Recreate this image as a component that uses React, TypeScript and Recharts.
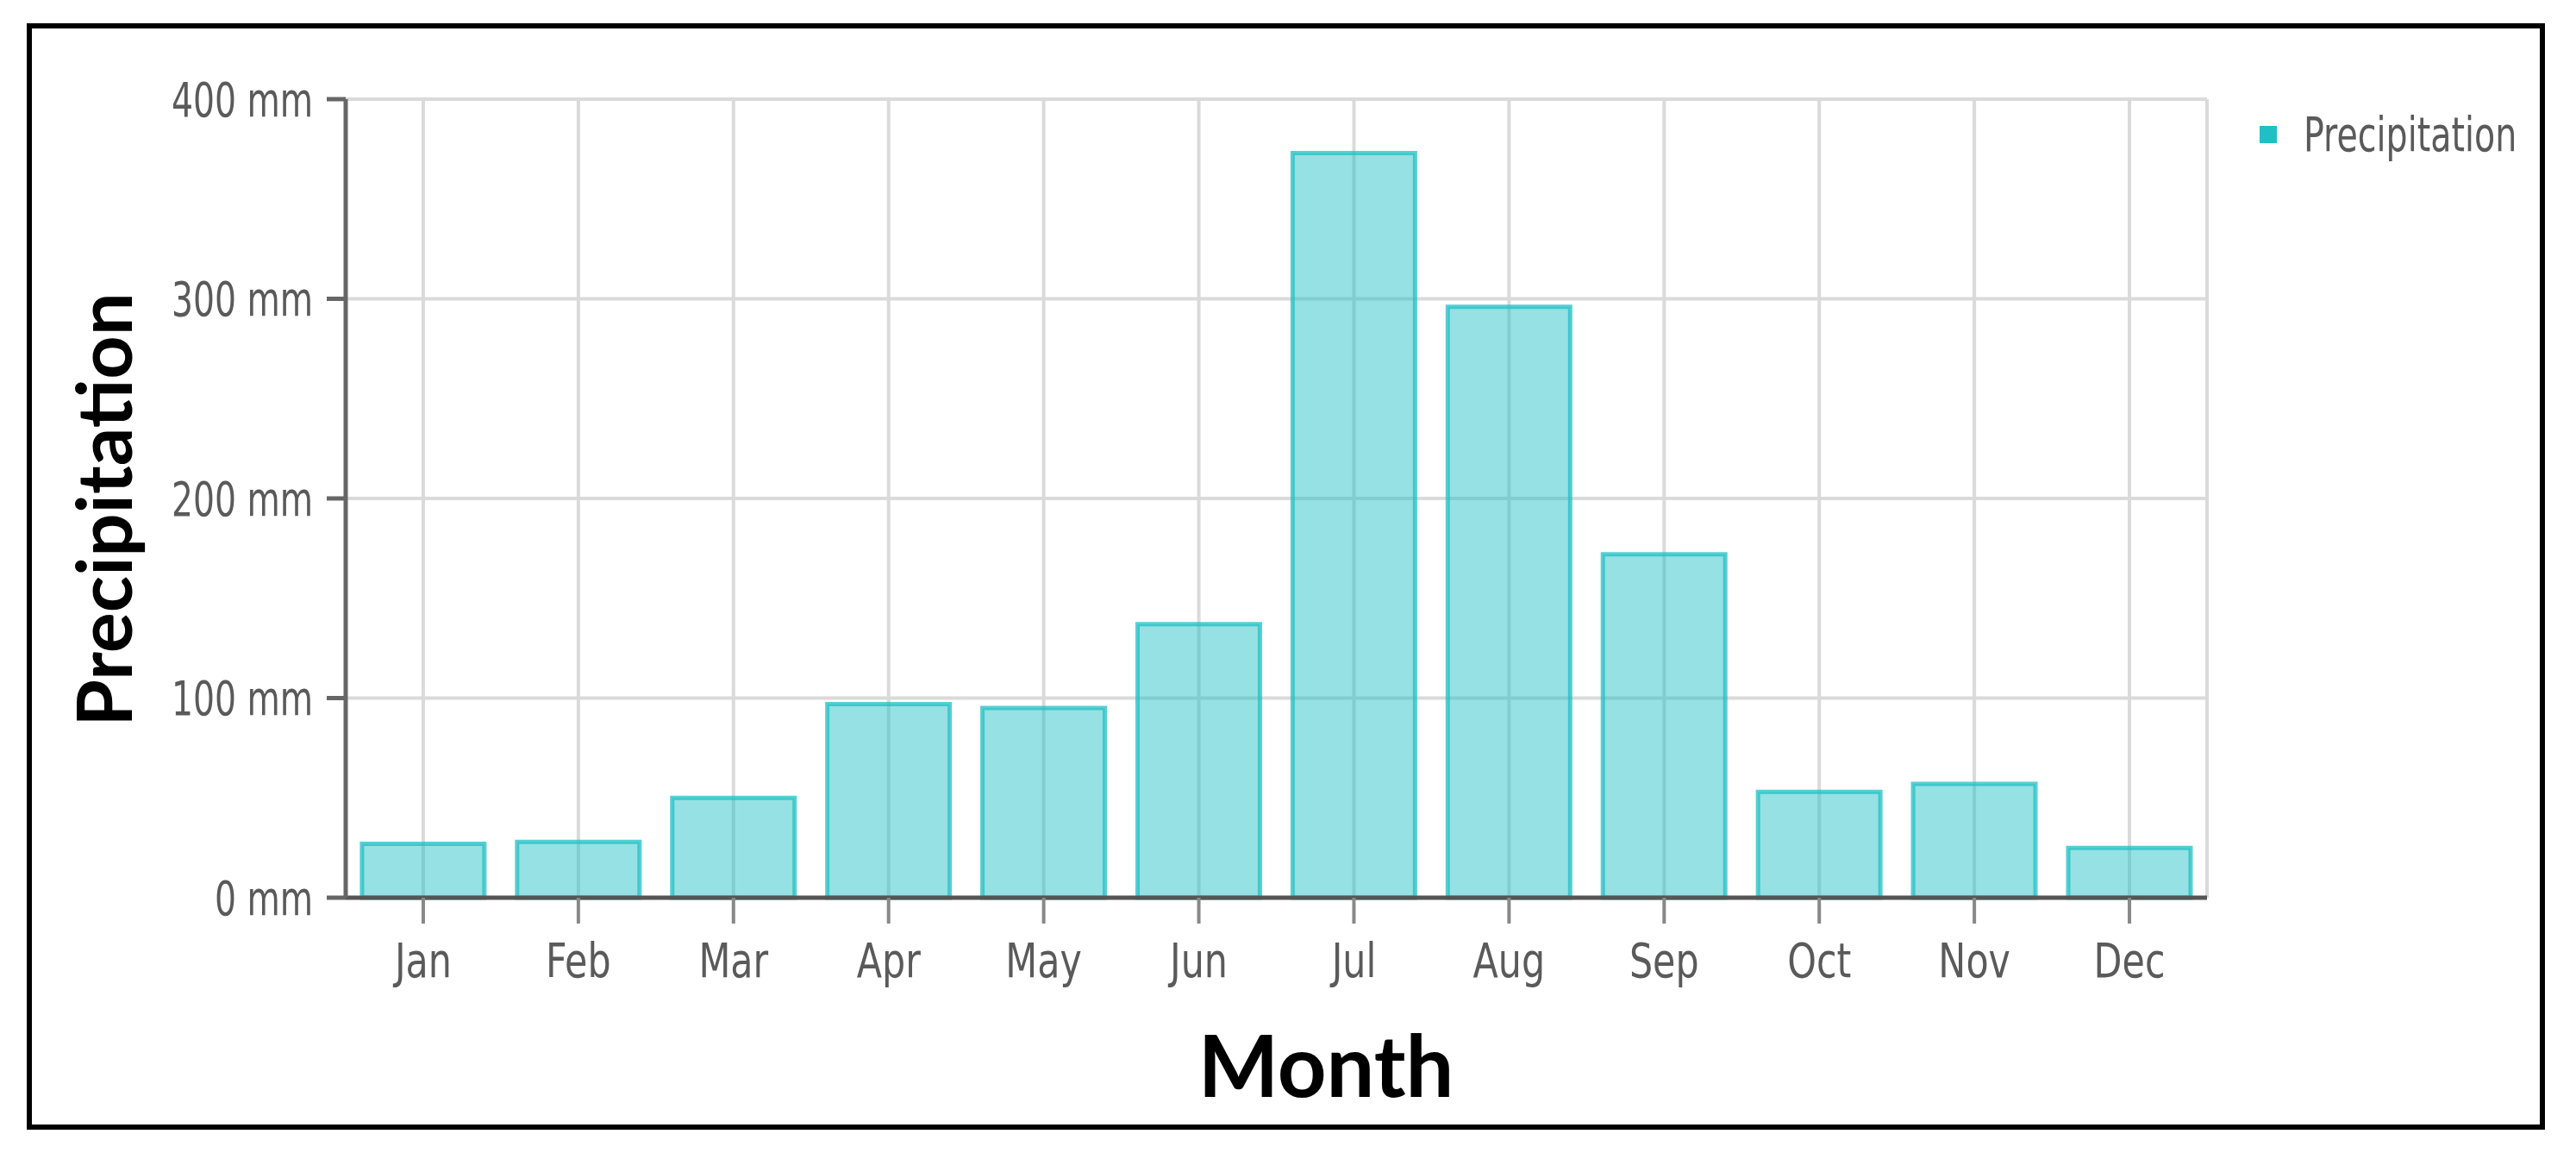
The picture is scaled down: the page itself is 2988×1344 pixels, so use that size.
import { Bar, BarChart, CartesianGrid, Legend, XAxis, YAxis } from "recharts";

const months = ["Jan", "Feb", "Mar", "Apr", "May", "Jun", "Jul", "Aug", "Sep", "Oct", "Nov", "Dec"];
const precipitation = [27, 28, 50, 97, 95, 137, 373, 296, 172, 53, 57, 25];
const yTicks = [0, 100, 200, 300, 400];

const data = months.map((month, i) => ({ month, precipitation: precipitation[i] }));

const TEAL = "#1fbfc4";
const NARROW = "'Liberation Sans Narrow', 'DejaVu Sans Condensed', sans-serif";
const TICK_COLOR = "#5a5a5a";

// the original uses a condensed face, so squeeze the glyphs horizontally
function YTick(props: any) {
  const { x, y, payload } = props;
  return (
    <g transform={`translate(${x},${y}) scale(0.78,1)`}>
      <text textAnchor="end" dy="0.355em" fill={TICK_COLOR} fontSize={56} fontFamily={NARROW}>
        {`${payload.value} mm`}
      </text>
    </g>
  );
}

function XTick(props: any) {
  const { x, y, payload } = props;
  return (
    <g transform={`translate(${x},${y}) scale(0.85,1)`}>
      <text textAnchor="middle" dy="0.71em" fill={TICK_COLOR} fontSize={56} fontFamily={NARROW}>
        {payload.value}
      </text>
    </g>
  );
}

export default function App() {
  return (
    <div
      style={{
        position: "absolute",
        left: 0,
        top: 0,
        width: 2988,
        height: 1344,
        background: "#fff",
        overflow: "hidden",
      }}
    >
      <div
        style={{
          position: "absolute",
          left: 31,
          top: 27,
          width: 2921,
          height: 1283,
          border: "6px solid #000",
          boxSizing: "border-box",
        }}
      />
      <div style={{ position: "absolute", left: 0, top: 0 }}>
        <BarChart
          width={2988}
          height={1344}
          data={data}
          margin={{ top: 115, right: 428, bottom: 183, left: 151 }}
          barCategoryGap="10.5%"
        >
          <CartesianGrid yAxisId="left" stroke="#dadada" strokeWidth={4} />
          <XAxis
            dataKey="month"
            height={120}
            tickSize={30}
            tickMargin={22}
            axisLine={{ stroke: "#555", strokeWidth: 5 }}
            tickLine={{ stroke: "#888", strokeWidth: 4 }}
            tick={<XTick />}
          />
          <YAxis
            yAxisId="left"
            width={250}
            domain={[0, 400]}
            ticks={yTicks}
            tickSize={22}
            tickMargin={16}
            axisLine={{ stroke: "#666", strokeWidth: 5 }}
            tickLine={{ stroke: "#666", strokeWidth: 5 }}
            tick={<YTick />}
          />
          <YAxis
            yAxisId="right"
            orientation="right"
            width={0}
            tick={false}
            tickLine={false}
            axisLine={{ stroke: "#e6e6e6", strokeWidth: 5 }}
          />
          <Legend
            layout="vertical"
            align="center"
            verticalAlign="middle"
            wrapperStyle={{ left: 2621, top: 128, width: 320, height: 56 }}
            content={({ payload }) => (
              <div style={{ display: "flex", alignItems: "center", height: 56 }}>
                {(payload ?? []).map((p) => (
                  <div key={String(p.value)} style={{ display: "flex", alignItems: "center" }}>
                    <span
                      style={{ width: 20, height: 20, background: TEAL, marginRight: 31, display: "inline-block" }}
                    />
                    <span
                      style={{
                        fontFamily: NARROW,
                        fontSize: 55,
                        color: TICK_COLOR,
                        display: "inline-block",
                        transform: "scaleX(0.8)",
                        transformOrigin: "left center",
                        whiteSpace: "nowrap",
                      }}
                    >
                      {p.value}
                    </span>
                  </div>
                ))}
              </div>
            )}
          />
          <Bar
            yAxisId="left"
            dataKey="precipitation"
            name="Precipitation"
            fill={TEAL}
            fillOpacity={0.47}
            stroke={TEAL}
            strokeOpacity={0.75}
            strokeWidth={5}
            isAnimationActive={false}
          />
        </BarChart>
      </div>
      <svg
        width={2988}
        height={1344}
        style={{ position: "absolute", left: 0, top: 0, pointerEvents: "none" }}
      >
        <text
          x={1538}
          y={1272}
          textAnchor="middle"
          fontFamily="Lato, sans-serif"
          fontWeight={700}
          fontSize={99}
          fill="#000"
        >
          Month
        </text>
        <text
          transform="translate(153,591) rotate(-90)"
          textAnchor="middle"
          fontFamily="Lato, sans-serif"
          fontWeight={700}
          fontSize={88}
          fill="#000"
        >
          Precipitation
        </text>
      </svg>
    </div>
  );
}
